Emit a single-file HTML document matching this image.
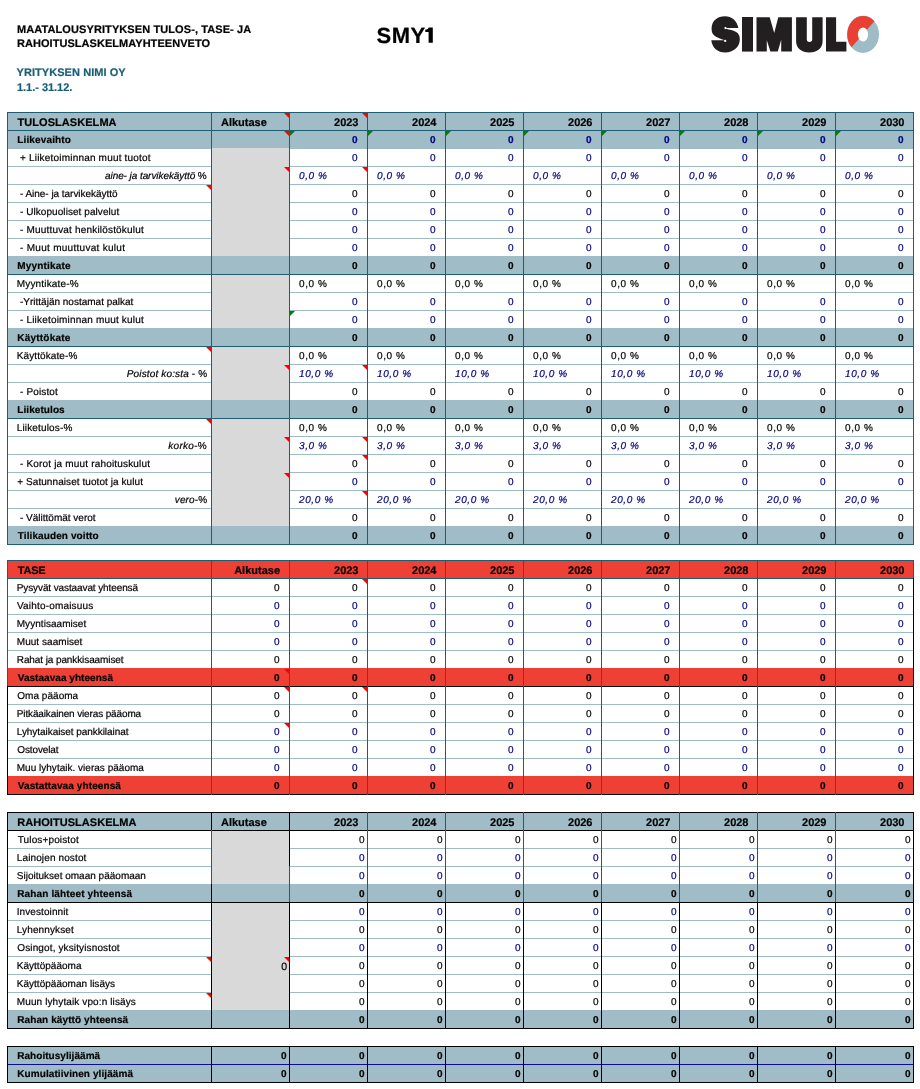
<!DOCTYPE html><html><head><meta charset="utf-8"><style>
*{margin:0;padding:0;box-sizing:border-box}
html,body{width:920px;height:1089px;background:#fff;overflow:hidden;position:relative;font-family:"Liberation Sans",sans-serif}
.r{position:absolute}
.t{position:absolute;white-space:nowrap}
#tx{position:absolute;left:0;top:0;width:920px;height:1089px;will-change:transform;-webkit-text-stroke:0.2px currentColor;text-rendering:geometricPrecision}
</style></head><body>
<svg class="r" style="left:420px;top:20px" width="20" height="30" viewBox="420 20 20 30"><path d="M428.6 27.4H432.8V42.8H428.6V31.9H425.3V29.5C427.2 29.5 428.4 28.8 428.6 27.4Z" fill="#000"/></svg>
<div class="r" style="left:7px;top:112px;width:906px;height:18px;background:#a0bdc7"></div>
<div class="r" style="left:7px;top:130px;width:906px;height:18px;background:#a0bdc7"></div>
<div class="r" style="left:211px;top:148px;width:78px;height:19px;background:#d9d9d9"></div>
<div class="r" style="left:211px;top:166px;width:78px;height:19px;background:#d9d9d9"></div>
<div class="r" style="left:211px;top:184px;width:78px;height:19px;background:#d9d9d9"></div>
<div class="r" style="left:211px;top:202px;width:78px;height:19px;background:#d9d9d9"></div>
<div class="r" style="left:211px;top:220px;width:78px;height:19px;background:#d9d9d9"></div>
<div class="r" style="left:211px;top:238px;width:78px;height:19px;background:#d9d9d9"></div>
<div class="r" style="left:7px;top:256px;width:906px;height:18px;background:#a0bdc7"></div>
<div class="r" style="left:211px;top:274px;width:78px;height:19px;background:#d9d9d9"></div>
<div class="r" style="left:211px;top:292px;width:78px;height:19px;background:#d9d9d9"></div>
<div class="r" style="left:211px;top:310px;width:78px;height:19px;background:#d9d9d9"></div>
<div class="r" style="left:7px;top:328px;width:906px;height:18px;background:#a0bdc7"></div>
<div class="r" style="left:211px;top:346px;width:78px;height:19px;background:#d9d9d9"></div>
<div class="r" style="left:211px;top:364px;width:78px;height:19px;background:#d9d9d9"></div>
<div class="r" style="left:211px;top:382px;width:78px;height:19px;background:#d9d9d9"></div>
<div class="r" style="left:7px;top:400px;width:906px;height:18px;background:#a0bdc7"></div>
<div class="r" style="left:211px;top:418px;width:78px;height:19px;background:#d9d9d9"></div>
<div class="r" style="left:211px;top:436px;width:78px;height:19px;background:#d9d9d9"></div>
<div class="r" style="left:211px;top:454px;width:78px;height:19px;background:#d9d9d9"></div>
<div class="r" style="left:211px;top:472px;width:78px;height:19px;background:#d9d9d9"></div>
<div class="r" style="left:211px;top:490px;width:78px;height:19px;background:#d9d9d9"></div>
<div class="r" style="left:211px;top:508px;width:78px;height:19px;background:#d9d9d9"></div>
<div class="r" style="left:7px;top:526px;width:906px;height:18px;background:#a0bdc7"></div>
<div class="r" style="left:7px;top:148px;width:204px;height:1px;background:#9fbcc6"></div>
<div class="r" style="left:289px;top:148px;width:624px;height:1px;background:#9fbcc6"></div>
<div class="r" style="left:7px;top:166px;width:204px;height:1px;background:#9fbcc6"></div>
<div class="r" style="left:289px;top:166px;width:624px;height:1px;background:#9fbcc6"></div>
<div class="r" style="left:7px;top:184px;width:204px;height:1px;background:#9fbcc6"></div>
<div class="r" style="left:289px;top:184px;width:624px;height:1px;background:#9fbcc6"></div>
<div class="r" style="left:7px;top:202px;width:204px;height:1px;background:#9fbcc6"></div>
<div class="r" style="left:289px;top:202px;width:624px;height:1px;background:#9fbcc6"></div>
<div class="r" style="left:7px;top:220px;width:204px;height:1px;background:#9fbcc6"></div>
<div class="r" style="left:289px;top:220px;width:624px;height:1px;background:#9fbcc6"></div>
<div class="r" style="left:7px;top:238px;width:204px;height:1px;background:#9fbcc6"></div>
<div class="r" style="left:289px;top:238px;width:624px;height:1px;background:#9fbcc6"></div>
<div class="r" style="left:7px;top:274px;width:906px;height:1px;background:#1d5e75"></div>
<div class="r" style="left:7px;top:292px;width:204px;height:1px;background:#9fbcc6"></div>
<div class="r" style="left:289px;top:292px;width:624px;height:1px;background:#9fbcc6"></div>
<div class="r" style="left:7px;top:310px;width:204px;height:1px;background:#9fbcc6"></div>
<div class="r" style="left:289px;top:310px;width:624px;height:1px;background:#9fbcc6"></div>
<div class="r" style="left:7px;top:346px;width:906px;height:1px;background:#1d5e75"></div>
<div class="r" style="left:7px;top:364px;width:204px;height:1px;background:#9fbcc6"></div>
<div class="r" style="left:289px;top:364px;width:624px;height:1px;background:#9fbcc6"></div>
<div class="r" style="left:7px;top:382px;width:204px;height:1px;background:#9fbcc6"></div>
<div class="r" style="left:289px;top:382px;width:624px;height:1px;background:#9fbcc6"></div>
<div class="r" style="left:7px;top:418px;width:906px;height:1px;background:#1d5e75"></div>
<div class="r" style="left:7px;top:436px;width:204px;height:1px;background:#9fbcc6"></div>
<div class="r" style="left:289px;top:436px;width:624px;height:1px;background:#9fbcc6"></div>
<div class="r" style="left:7px;top:454px;width:204px;height:1px;background:#9fbcc6"></div>
<div class="r" style="left:289px;top:454px;width:624px;height:1px;background:#9fbcc6"></div>
<div class="r" style="left:7px;top:472px;width:204px;height:1px;background:#9fbcc6"></div>
<div class="r" style="left:289px;top:472px;width:624px;height:1px;background:#9fbcc6"></div>
<div class="r" style="left:7px;top:490px;width:204px;height:1px;background:#9fbcc6"></div>
<div class="r" style="left:289px;top:490px;width:624px;height:1px;background:#9fbcc6"></div>
<div class="r" style="left:7px;top:508px;width:204px;height:1px;background:#9fbcc6"></div>
<div class="r" style="left:289px;top:508px;width:624px;height:1px;background:#9fbcc6"></div>
<div class="r" style="left:7px;top:544px;width:906px;height:1px;background:#1d5e75"></div>
<div class="r" style="left:7px;top:112px;width:906px;height:1px;background:#1d5e75"></div>
<div class="r" style="left:7px;top:130px;width:906px;height:1px;background:#1d5e75"></div>
<div class="r" style="left:7px;top:112px;width:1px;height:433px;background:#1d5e75"></div>
<div class="r" style="left:211px;top:112px;width:1px;height:433px;background:#1d5e75"></div>
<div class="r" style="left:289px;top:112px;width:1px;height:433px;background:#1d5e75"></div>
<div class="r" style="left:367px;top:112px;width:1px;height:433px;background:#1d5e75"></div>
<div class="r" style="left:445px;top:112px;width:1px;height:433px;background:#1d5e75"></div>
<div class="r" style="left:523px;top:112px;width:1px;height:433px;background:#1d5e75"></div>
<div class="r" style="left:601px;top:112px;width:1px;height:433px;background:#1d5e75"></div>
<div class="r" style="left:679px;top:112px;width:1px;height:433px;background:#1d5e75"></div>
<div class="r" style="left:757px;top:112px;width:1px;height:433px;background:#1d5e75"></div>
<div class="r" style="left:835px;top:112px;width:1px;height:433px;background:#1d5e75"></div>
<div class="r" style="left:913px;top:112px;width:1px;height:433px;background:#1d5e75"></div>
<div class="r" style="left:284px;top:113px;border-top:5px solid #ff0000;border-left:5px solid transparent"></div>
<div class="r" style="left:362px;top:113px;border-top:5px solid #ff0000;border-left:5px solid transparent"></div>
<div class="r" style="left:284px;top:131px;border-top:5px solid #ff0000;border-left:5px solid transparent"></div>
<div class="r" style="left:290px;top:131px;border-top:5px solid #008000;border-right:5px solid transparent"></div>
<div class="r" style="left:368px;top:131px;border-top:5px solid #008000;border-right:5px solid transparent"></div>
<div class="r" style="left:446px;top:131px;border-top:5px solid #008000;border-right:5px solid transparent"></div>
<div class="r" style="left:524px;top:131px;border-top:5px solid #008000;border-right:5px solid transparent"></div>
<div class="r" style="left:602px;top:131px;border-top:5px solid #008000;border-right:5px solid transparent"></div>
<div class="r" style="left:680px;top:131px;border-top:5px solid #008000;border-right:5px solid transparent"></div>
<div class="r" style="left:758px;top:131px;border-top:5px solid #008000;border-right:5px solid transparent"></div>
<div class="r" style="left:836px;top:131px;border-top:5px solid #008000;border-right:5px solid transparent"></div>
<div class="r" style="left:284px;top:167px;border-top:5px solid #ff0000;border-left:5px solid transparent"></div>
<div class="r" style="left:362px;top:167px;border-top:5px solid #ff0000;border-left:5px solid transparent"></div>
<div class="r" style="left:206px;top:185px;border-top:5px solid #ff0000;border-left:5px solid transparent"></div>
<div class="r" style="left:290px;top:311px;border-top:5px solid #008000;border-right:5px solid transparent"></div>
<div class="r" style="left:206px;top:347px;border-top:5px solid #ff0000;border-left:5px solid transparent"></div>
<div class="r" style="left:284px;top:365px;border-top:5px solid #ff0000;border-left:5px solid transparent"></div>
<div class="r" style="left:362px;top:365px;border-top:5px solid #ff0000;border-left:5px solid transparent"></div>
<div class="r" style="left:206px;top:419px;border-top:5px solid #ff0000;border-left:5px solid transparent"></div>
<div class="r" style="left:284px;top:437px;border-top:5px solid #ff0000;border-left:5px solid transparent"></div>
<div class="r" style="left:362px;top:437px;border-top:5px solid #ff0000;border-left:5px solid transparent"></div>
<div class="r" style="left:362px;top:455px;border-top:5px solid #ff0000;border-left:5px solid transparent"></div>
<div class="r" style="left:284px;top:473px;border-top:5px solid #ff0000;border-left:5px solid transparent"></div>
<div class="r" style="left:362px;top:491px;border-top:5px solid #ff0000;border-left:5px solid transparent"></div>
<div class="r" style="left:7px;top:560px;width:906px;height:18px;background:#ee4035"></div>
<div class="r" style="left:7px;top:668px;width:906px;height:18px;background:#ee4035"></div>
<div class="r" style="left:7px;top:776px;width:906px;height:18px;background:#ee4035"></div>
<div class="r" style="left:7px;top:596px;width:906px;height:1px;background:#9fbcc6"></div>
<div class="r" style="left:7px;top:614px;width:906px;height:1px;background:#9fbcc6"></div>
<div class="r" style="left:7px;top:632px;width:906px;height:1px;background:#9fbcc6"></div>
<div class="r" style="left:7px;top:650px;width:906px;height:1px;background:#9fbcc6"></div>
<div class="r" style="left:7px;top:686px;width:906px;height:1px;background:#000000"></div>
<div class="r" style="left:7px;top:704px;width:906px;height:1px;background:#9fbcc6"></div>
<div class="r" style="left:7px;top:722px;width:906px;height:1px;background:#9fbcc6"></div>
<div class="r" style="left:7px;top:740px;width:906px;height:1px;background:#9fbcc6"></div>
<div class="r" style="left:7px;top:758px;width:906px;height:1px;background:#9fbcc6"></div>
<div class="r" style="left:7px;top:794px;width:906px;height:1px;background:#000000"></div>
<div class="r" style="left:7px;top:560px;width:906px;height:1px;background:#1d5e75"></div>
<div class="r" style="left:7px;top:578px;width:906px;height:1px;background:#1d5e75"></div>
<div class="r" style="left:211px;top:560px;width:1px;height:235px;background:#1d5e75"></div>
<div class="r" style="left:289px;top:560px;width:1px;height:235px;background:#1d5e75"></div>
<div class="r" style="left:367px;top:560px;width:1px;height:235px;background:#1d5e75"></div>
<div class="r" style="left:445px;top:560px;width:1px;height:235px;background:#1d5e75"></div>
<div class="r" style="left:523px;top:560px;width:1px;height:235px;background:#1d5e75"></div>
<div class="r" style="left:601px;top:560px;width:1px;height:235px;background:#1d5e75"></div>
<div class="r" style="left:679px;top:560px;width:1px;height:235px;background:#1d5e75"></div>
<div class="r" style="left:757px;top:560px;width:1px;height:235px;background:#1d5e75"></div>
<div class="r" style="left:835px;top:560px;width:1px;height:235px;background:#1d5e75"></div>
<div class="r" style="left:7px;top:560px;width:1px;height:126px;background:#1d5e75"></div>
<div class="r" style="left:7px;top:686px;width:1px;height:109px;background:#000000"></div>
<div class="r" style="left:913px;top:560px;width:1px;height:18px;background:#1d5e75"></div>
<div class="r" style="left:913px;top:578px;width:1px;height:217px;background:#000000"></div>
<div class="r" style="left:362px;top:579px;border-top:5px solid #ff0000;border-left:5px solid transparent"></div>
<div class="r" style="left:284px;top:669px;border-top:5px solid #ff0000;border-left:5px solid transparent"></div>
<div class="r" style="left:284px;top:687px;border-top:5px solid #ff0000;border-left:5px solid transparent"></div>
<div class="r" style="left:362px;top:687px;border-top:5px solid #ff0000;border-left:5px solid transparent"></div>
<div class="r" style="left:284px;top:723px;border-top:5px solid #ff0000;border-left:5px solid transparent"></div>
<div class="r" style="left:7px;top:812px;width:906px;height:18px;background:#a0bdc7"></div>
<div class="r" style="left:211px;top:830px;width:78px;height:19px;background:#d9d9d9"></div>
<div class="r" style="left:211px;top:848px;width:78px;height:19px;background:#d9d9d9"></div>
<div class="r" style="left:211px;top:866px;width:78px;height:19px;background:#d9d9d9"></div>
<div class="r" style="left:7px;top:884px;width:906px;height:18px;background:#a0bdc7"></div>
<div class="r" style="left:211px;top:902px;width:78px;height:19px;background:#d9d9d9"></div>
<div class="r" style="left:211px;top:920px;width:78px;height:19px;background:#d9d9d9"></div>
<div class="r" style="left:211px;top:938px;width:78px;height:19px;background:#d9d9d9"></div>
<div class="r" style="left:211px;top:956px;width:78px;height:19px;background:#d9d9d9"></div>
<div class="r" style="left:211px;top:974px;width:78px;height:19px;background:#d9d9d9"></div>
<div class="r" style="left:211px;top:992px;width:78px;height:19px;background:#d9d9d9"></div>
<div class="r" style="left:7px;top:1010px;width:906px;height:18px;background:#a0bdc7"></div>
<div class="r" style="left:7px;top:848px;width:204px;height:1px;background:#9fbcc6"></div>
<div class="r" style="left:289px;top:848px;width:624px;height:1px;background:#9fbcc6"></div>
<div class="r" style="left:7px;top:866px;width:204px;height:1px;background:#9fbcc6"></div>
<div class="r" style="left:289px;top:866px;width:624px;height:1px;background:#9fbcc6"></div>
<div class="r" style="left:7px;top:902px;width:906px;height:1px;background:#000000"></div>
<div class="r" style="left:7px;top:920px;width:204px;height:1px;background:#9fbcc6"></div>
<div class="r" style="left:289px;top:920px;width:624px;height:1px;background:#9fbcc6"></div>
<div class="r" style="left:7px;top:938px;width:204px;height:1px;background:#9fbcc6"></div>
<div class="r" style="left:289px;top:938px;width:624px;height:1px;background:#9fbcc6"></div>
<div class="r" style="left:7px;top:956px;width:204px;height:1px;background:#9fbcc6"></div>
<div class="r" style="left:289px;top:956px;width:624px;height:1px;background:#9fbcc6"></div>
<div class="r" style="left:7px;top:974px;width:204px;height:1px;background:#9fbcc6"></div>
<div class="r" style="left:289px;top:974px;width:624px;height:1px;background:#9fbcc6"></div>
<div class="r" style="left:7px;top:992px;width:204px;height:1px;background:#9fbcc6"></div>
<div class="r" style="left:289px;top:992px;width:624px;height:1px;background:#9fbcc6"></div>
<div class="r" style="left:7px;top:1028px;width:906px;height:1px;background:#000000"></div>
<div class="r" style="left:7px;top:812px;width:906px;height:1px;background:#000000"></div>
<div class="r" style="left:7px;top:830px;width:906px;height:1px;background:#000000"></div>
<div class="r" style="left:7px;top:812px;width:1px;height:217px;background:#000000"></div>
<div class="r" style="left:913px;top:812px;width:1px;height:217px;background:#000000"></div>
<div class="r" style="left:211px;top:812px;width:1px;height:18px;background:#000000"></div>
<div class="r" style="left:289px;top:812px;width:1px;height:18px;background:#000000"></div>
<div class="r" style="left:367px;top:812px;width:1px;height:18px;background:#1d5e75"></div>
<div class="r" style="left:445px;top:812px;width:1px;height:18px;background:#1d5e75"></div>
<div class="r" style="left:523px;top:812px;width:1px;height:18px;background:#1d5e75"></div>
<div class="r" style="left:601px;top:812px;width:1px;height:18px;background:#1d5e75"></div>
<div class="r" style="left:679px;top:812px;width:1px;height:18px;background:#1d5e75"></div>
<div class="r" style="left:757px;top:812px;width:1px;height:18px;background:#1d5e75"></div>
<div class="r" style="left:835px;top:812px;width:1px;height:18px;background:#1d5e75"></div>
<div class="r" style="left:211px;top:830px;width:1px;height:54px;background:#1d5e75"></div>
<div class="r" style="left:211px;top:884px;width:1px;height:19px;background:#000000"></div>
<div class="r" style="left:289px;top:830px;width:1px;height:36px;background:#000000"></div>
<div class="r" style="left:289px;top:866px;width:1px;height:36px;background:#1d5e75"></div>
<div class="r" style="left:367px;top:830px;width:1px;height:72px;background:#1d5e75"></div>
<div class="r" style="left:445px;top:830px;width:1px;height:72px;background:#1d5e75"></div>
<div class="r" style="left:523px;top:830px;width:1px;height:72px;background:#1d5e75"></div>
<div class="r" style="left:601px;top:830px;width:1px;height:72px;background:#1d5e75"></div>
<div class="r" style="left:679px;top:830px;width:1px;height:72px;background:#1d5e75"></div>
<div class="r" style="left:757px;top:830px;width:1px;height:72px;background:#1d5e75"></div>
<div class="r" style="left:835px;top:830px;width:1px;height:72px;background:#1d5e75"></div>
<div class="r" style="left:211px;top:902px;width:1px;height:127px;background:#000000"></div>
<div class="r" style="left:289px;top:902px;width:1px;height:127px;background:#000000"></div>
<div class="r" style="left:367px;top:902px;width:1px;height:127px;background:#000000"></div>
<div class="r" style="left:445px;top:902px;width:1px;height:127px;background:#000000"></div>
<div class="r" style="left:523px;top:902px;width:1px;height:127px;background:#000000"></div>
<div class="r" style="left:601px;top:902px;width:1px;height:127px;background:#000000"></div>
<div class="r" style="left:679px;top:902px;width:1px;height:127px;background:#000000"></div>
<div class="r" style="left:757px;top:902px;width:1px;height:127px;background:#000000"></div>
<div class="r" style="left:835px;top:902px;width:1px;height:127px;background:#000000"></div>
<div class="r" style="left:206px;top:957px;border-top:5px solid #ff0000;border-left:5px solid transparent"></div>
<div class="r" style="left:284px;top:957px;border-top:5px solid #ff0000;border-left:5px solid transparent"></div>
<div class="r" style="left:206px;top:993px;border-top:5px solid #ff0000;border-left:5px solid transparent"></div>
<div class="r" style="left:7px;top:1046px;width:906px;height:36px;background:#a0bdc7"></div>
<div class="r" style="left:7px;top:1046px;width:906px;height:1px;background:#000000"></div>
<div class="r" style="left:7px;top:1064px;width:906px;height:1px;background:#100c9a"></div>
<div class="r" style="left:7px;top:1082px;width:906px;height:1px;background:#000000"></div>
<div class="r" style="left:7px;top:1046px;width:1px;height:37px;background:#000000"></div>
<div class="r" style="left:211px;top:1046px;width:1px;height:37px;background:#000000"></div>
<div class="r" style="left:289px;top:1046px;width:1px;height:37px;background:#000000"></div>
<div class="r" style="left:367px;top:1046px;width:1px;height:37px;background:#000000"></div>
<div class="r" style="left:445px;top:1046px;width:1px;height:37px;background:#000000"></div>
<div class="r" style="left:523px;top:1046px;width:1px;height:37px;background:#000000"></div>
<div class="r" style="left:601px;top:1046px;width:1px;height:37px;background:#000000"></div>
<div class="r" style="left:679px;top:1046px;width:1px;height:37px;background:#000000"></div>
<div class="r" style="left:757px;top:1046px;width:1px;height:37px;background:#000000"></div>
<div class="r" style="left:835px;top:1046px;width:1px;height:37px;background:#000000"></div>
<div class="r" style="left:913px;top:1046px;width:1px;height:37px;background:#000000"></div>
<svg class="r" style="left:700px;top:0px" width="200" height="70" viewBox="700 0 200 70">
<g fill="#231f20">
<path d="M725 16.2C731.5 16.2 737 20.5 738.4 28H726.8L725.6 28.8C729 29.6 735 30.6 737.8 33.2C739.4 35 739.8 37 739.8 39.6C739.8 47.2 733.2 52.5 725.4 52.5C717.4 52.5 712.2 47.6 711.3 40.2H723.9L724.6 40.3C721.5 38.9 714.6 37.2 712.6 33.4C711.9 32 711.6 30.2 711.6 28.4C711.6 20.5 717.6 16.2 725 16.2Z"/>
<rect x="742" y="17" width="11" height="34.6"/>
<path d="M756.5 17.2H769.7L774.2 33.1L778.3 17.2H791.9V51.6H781.2V39.8L777.8 51.6H770.4L766.8 40.3V51.6H756.5Z"/>
<path d="M796.1 17.3H806.8V39.3A2.7 2.7 0 0 0 812.2 39.3V17.3H822.6V41C822.6 48.5 817 52.5 809.4 52.5C801.8 52.5 796.1 48.5 796.1 41Z"/>
<path d="M826 17.3H836.1V41.7H846.4V51.6H826Z"/>
</g>
<g fill="#fff"><circle cx="725.5" cy="28.1" r="1.15"/><circle cx="725.2" cy="40.9" r="1.15"/></g>
<ellipse cx="863" cy="34.3" rx="16" ry="18.6" fill="#9dbcc6"/>
<path d="M851.57 47.31A16 18.6 0 0 1 874.43 21.29Z" fill="#ea4034"/>
<ellipse cx="863" cy="34.5" rx="5.1" ry="7.1" fill="#fff"/>
</svg>
<div id="tx">
<div class="t" style="top:25.19px;font-size:11px;line-height:11px;font-weight:bold;letter-spacing:0.092px;left:17.0px;">MAATALOUSYRITYKSEN TULOS-, TASE- JA</div>
<div class="t" style="top:39.19px;font-size:11px;line-height:11px;font-weight:bold;letter-spacing:0.044px;left:17.0px;">RAHOITUSLASKELMAYHTEENVETO</div>
<div class="t" style="top:24.88px;font-size:22px;line-height:22px;font-weight:bold;letter-spacing:0.499px;left:376.5px;">SMY</div>
<div class="t" style="top:68.19px;font-size:11px;line-height:11px;color:#1a5e79;font-weight:bold;letter-spacing:0.062px;left:16.5px;">YRITYKSEN NIMI OY</div>
<div class="t" style="top:83.19px;font-size:11px;line-height:11px;color:#1a5e79;font-weight:bold;letter-spacing:-0.028px;left:17.0px;">1.1.- 31.12.</div>
<div class="t" style="top:117.69px;font-size:11px;line-height:11px;font-weight:bold;letter-spacing:0.055px;left:17.5px;">TULOSLASKELMA</div>
<div class="t" style="top:117.69px;font-size:11px;line-height:11px;font-weight:bold;left:221px;">Alkutase</div>
<div class="t" style="top:117.69px;font-size:11px;line-height:11px;font-weight:bold;right:561.5px;">2023</div>
<div class="t" style="top:117.69px;font-size:11px;line-height:11px;font-weight:bold;right:483.5px;">2024</div>
<div class="t" style="top:117.69px;font-size:11px;line-height:11px;font-weight:bold;right:405.5px;">2025</div>
<div class="t" style="top:117.69px;font-size:11px;line-height:11px;font-weight:bold;right:327.5px;">2026</div>
<div class="t" style="top:117.69px;font-size:11px;line-height:11px;font-weight:bold;right:249.5px;">2027</div>
<div class="t" style="top:117.69px;font-size:11px;line-height:11px;font-weight:bold;right:171.5px;">2028</div>
<div class="t" style="top:117.69px;font-size:11px;line-height:11px;font-weight:bold;right:93.5px;">2029</div>
<div class="t" style="top:117.69px;font-size:11px;line-height:11px;font-weight:bold;right:15.5px;">2030</div>
<div class="t" style="top:136.03px;font-size:10px;line-height:10px;font-weight:bold;letter-spacing:0.140px;left:17.25px;">Liikevaihto</div>
<div class="t" style="top:136.03px;font-size:10px;line-height:10px;color:#000080;font-weight:bold;right:562.5px;">0</div>
<div class="t" style="top:136.03px;font-size:10px;line-height:10px;color:#000080;font-weight:bold;right:484.5px;">0</div>
<div class="t" style="top:136.03px;font-size:10px;line-height:10px;color:#000080;font-weight:bold;right:406.5px;">0</div>
<div class="t" style="top:136.03px;font-size:10px;line-height:10px;color:#000080;font-weight:bold;right:328.5px;">0</div>
<div class="t" style="top:136.03px;font-size:10px;line-height:10px;color:#000080;font-weight:bold;right:250.5px;">0</div>
<div class="t" style="top:136.03px;font-size:10px;line-height:10px;color:#000080;font-weight:bold;right:172.5px;">0</div>
<div class="t" style="top:136.03px;font-size:10px;line-height:10px;color:#000080;font-weight:bold;right:94.5px;">0</div>
<div class="t" style="top:136.03px;font-size:10px;line-height:10px;color:#000080;font-weight:bold;right:16.5px;">0</div>
<div class="t" style="top:154.03px;font-size:10px;line-height:10px;letter-spacing:0.194px;left:20.0px;">+ Liiketoiminnan muut tuotot</div>
<div class="t" style="top:154.03px;font-size:10px;line-height:10px;color:#000080;right:562.5px;">0</div>
<div class="t" style="top:154.03px;font-size:10px;line-height:10px;color:#000080;right:484.5px;">0</div>
<div class="t" style="top:154.03px;font-size:10px;line-height:10px;color:#000080;right:406.5px;">0</div>
<div class="t" style="top:154.03px;font-size:10px;line-height:10px;color:#000080;right:328.5px;">0</div>
<div class="t" style="top:154.03px;font-size:10px;line-height:10px;color:#000080;right:250.5px;">0</div>
<div class="t" style="top:154.03px;font-size:10px;line-height:10px;color:#000080;right:172.5px;">0</div>
<div class="t" style="top:154.03px;font-size:10px;line-height:10px;color:#000080;right:94.5px;">0</div>
<div class="t" style="top:154.03px;font-size:10px;line-height:10px;color:#000080;right:16.5px;">0</div>
<div class="t" style="top:172.03px;font-size:10px;line-height:10px;letter-spacing:-0.072px;left:105.0px;"><i>aine- ja tarvikekäyttö</i> %</div>
<div class="t" style="top:172.03px;font-size:10px;line-height:10px;color:#000080;font-style:italic;letter-spacing:0.600px;left:299px;">0,0 %</div>
<div class="t" style="top:172.03px;font-size:10px;line-height:10px;color:#000080;font-style:italic;letter-spacing:0.600px;left:377px;">0,0 %</div>
<div class="t" style="top:172.03px;font-size:10px;line-height:10px;color:#000080;font-style:italic;letter-spacing:0.600px;left:455px;">0,0 %</div>
<div class="t" style="top:172.03px;font-size:10px;line-height:10px;color:#000080;font-style:italic;letter-spacing:0.600px;left:533px;">0,0 %</div>
<div class="t" style="top:172.03px;font-size:10px;line-height:10px;color:#000080;font-style:italic;letter-spacing:0.600px;left:611px;">0,0 %</div>
<div class="t" style="top:172.03px;font-size:10px;line-height:10px;color:#000080;font-style:italic;letter-spacing:0.600px;left:689px;">0,0 %</div>
<div class="t" style="top:172.03px;font-size:10px;line-height:10px;color:#000080;font-style:italic;letter-spacing:0.600px;left:767px;">0,0 %</div>
<div class="t" style="top:172.03px;font-size:10px;line-height:10px;color:#000080;font-style:italic;letter-spacing:0.600px;left:845px;">0,0 %</div>
<div class="t" style="top:190.03px;font-size:10px;line-height:10px;letter-spacing:-0.037px;left:20.0px;">- Aine- ja tarvikekäyttö</div>
<div class="t" style="top:190.03px;font-size:10px;line-height:10px;right:562.5px;">0</div>
<div class="t" style="top:190.03px;font-size:10px;line-height:10px;right:484.5px;">0</div>
<div class="t" style="top:190.03px;font-size:10px;line-height:10px;right:406.5px;">0</div>
<div class="t" style="top:190.03px;font-size:10px;line-height:10px;right:328.5px;">0</div>
<div class="t" style="top:190.03px;font-size:10px;line-height:10px;right:250.5px;">0</div>
<div class="t" style="top:190.03px;font-size:10px;line-height:10px;right:172.5px;">0</div>
<div class="t" style="top:190.03px;font-size:10px;line-height:10px;right:94.5px;">0</div>
<div class="t" style="top:190.03px;font-size:10px;line-height:10px;right:16.5px;">0</div>
<div class="t" style="top:208.03px;font-size:10px;line-height:10px;letter-spacing:0.063px;left:20.0px;">- Ulkopuoliset palvelut</div>
<div class="t" style="top:208.03px;font-size:10px;line-height:10px;color:#000080;right:562.5px;">0</div>
<div class="t" style="top:208.03px;font-size:10px;line-height:10px;color:#000080;right:484.5px;">0</div>
<div class="t" style="top:208.03px;font-size:10px;line-height:10px;color:#000080;right:406.5px;">0</div>
<div class="t" style="top:208.03px;font-size:10px;line-height:10px;color:#000080;right:328.5px;">0</div>
<div class="t" style="top:208.03px;font-size:10px;line-height:10px;color:#000080;right:250.5px;">0</div>
<div class="t" style="top:208.03px;font-size:10px;line-height:10px;color:#000080;right:172.5px;">0</div>
<div class="t" style="top:208.03px;font-size:10px;line-height:10px;color:#000080;right:94.5px;">0</div>
<div class="t" style="top:208.03px;font-size:10px;line-height:10px;color:#000080;right:16.5px;">0</div>
<div class="t" style="top:226.03px;font-size:10px;line-height:10px;letter-spacing:0.183px;left:20.0px;">- Muuttuvat henkilöstökulut</div>
<div class="t" style="top:226.03px;font-size:10px;line-height:10px;color:#000080;right:562.5px;">0</div>
<div class="t" style="top:226.03px;font-size:10px;line-height:10px;color:#000080;right:484.5px;">0</div>
<div class="t" style="top:226.03px;font-size:10px;line-height:10px;color:#000080;right:406.5px;">0</div>
<div class="t" style="top:226.03px;font-size:10px;line-height:10px;color:#000080;right:328.5px;">0</div>
<div class="t" style="top:226.03px;font-size:10px;line-height:10px;color:#000080;right:250.5px;">0</div>
<div class="t" style="top:226.03px;font-size:10px;line-height:10px;color:#000080;right:172.5px;">0</div>
<div class="t" style="top:226.03px;font-size:10px;line-height:10px;color:#000080;right:94.5px;">0</div>
<div class="t" style="top:226.03px;font-size:10px;line-height:10px;color:#000080;right:16.5px;">0</div>
<div class="t" style="top:244.03px;font-size:10px;line-height:10px;letter-spacing:0.289px;left:20.0px;">- Muut muuttuvat kulut</div>
<div class="t" style="top:244.03px;font-size:10px;line-height:10px;color:#000080;right:562.5px;">0</div>
<div class="t" style="top:244.03px;font-size:10px;line-height:10px;color:#000080;right:484.5px;">0</div>
<div class="t" style="top:244.03px;font-size:10px;line-height:10px;color:#000080;right:406.5px;">0</div>
<div class="t" style="top:244.03px;font-size:10px;line-height:10px;color:#000080;right:328.5px;">0</div>
<div class="t" style="top:244.03px;font-size:10px;line-height:10px;color:#000080;right:250.5px;">0</div>
<div class="t" style="top:244.03px;font-size:10px;line-height:10px;color:#000080;right:172.5px;">0</div>
<div class="t" style="top:244.03px;font-size:10px;line-height:10px;color:#000080;right:94.5px;">0</div>
<div class="t" style="top:244.03px;font-size:10px;line-height:10px;color:#000080;right:16.5px;">0</div>
<div class="t" style="top:262.04px;font-size:10px;line-height:10px;font-weight:bold;letter-spacing:0.167px;left:17.25px;">Myyntikate</div>
<div class="t" style="top:262.04px;font-size:10px;line-height:10px;font-weight:bold;right:562.5px;">0</div>
<div class="t" style="top:262.04px;font-size:10px;line-height:10px;font-weight:bold;right:484.5px;">0</div>
<div class="t" style="top:262.04px;font-size:10px;line-height:10px;font-weight:bold;right:406.5px;">0</div>
<div class="t" style="top:262.04px;font-size:10px;line-height:10px;font-weight:bold;right:328.5px;">0</div>
<div class="t" style="top:262.04px;font-size:10px;line-height:10px;font-weight:bold;right:250.5px;">0</div>
<div class="t" style="top:262.04px;font-size:10px;line-height:10px;font-weight:bold;right:172.5px;">0</div>
<div class="t" style="top:262.04px;font-size:10px;line-height:10px;font-weight:bold;right:94.5px;">0</div>
<div class="t" style="top:262.04px;font-size:10px;line-height:10px;font-weight:bold;right:16.5px;">0</div>
<div class="t" style="top:280.04px;font-size:10px;line-height:10px;letter-spacing:0.169px;left:16.75px;">Myyntikate-%</div>
<div class="t" style="top:280.04px;font-size:10px;line-height:10px;letter-spacing:0.600px;left:299px;">0,0 %</div>
<div class="t" style="top:280.04px;font-size:10px;line-height:10px;letter-spacing:0.600px;left:377px;">0,0 %</div>
<div class="t" style="top:280.04px;font-size:10px;line-height:10px;letter-spacing:0.600px;left:455px;">0,0 %</div>
<div class="t" style="top:280.04px;font-size:10px;line-height:10px;letter-spacing:0.600px;left:533px;">0,0 %</div>
<div class="t" style="top:280.04px;font-size:10px;line-height:10px;letter-spacing:0.600px;left:611px;">0,0 %</div>
<div class="t" style="top:280.04px;font-size:10px;line-height:10px;letter-spacing:0.600px;left:689px;">0,0 %</div>
<div class="t" style="top:280.04px;font-size:10px;line-height:10px;letter-spacing:0.600px;left:767px;">0,0 %</div>
<div class="t" style="top:280.04px;font-size:10px;line-height:10px;letter-spacing:0.600px;left:845px;">0,0 %</div>
<div class="t" style="top:298.04px;font-size:10px;line-height:10px;left:20.0px;">-Yrittäjän nostamat palkat</div>
<div class="t" style="top:298.04px;font-size:10px;line-height:10px;color:#000080;right:562.5px;">0</div>
<div class="t" style="top:298.04px;font-size:10px;line-height:10px;color:#000080;right:484.5px;">0</div>
<div class="t" style="top:298.04px;font-size:10px;line-height:10px;color:#000080;right:406.5px;">0</div>
<div class="t" style="top:298.04px;font-size:10px;line-height:10px;color:#000080;right:328.5px;">0</div>
<div class="t" style="top:298.04px;font-size:10px;line-height:10px;color:#000080;right:250.5px;">0</div>
<div class="t" style="top:298.04px;font-size:10px;line-height:10px;color:#000080;right:172.5px;">0</div>
<div class="t" style="top:298.04px;font-size:10px;line-height:10px;color:#000080;right:94.5px;">0</div>
<div class="t" style="top:298.04px;font-size:10px;line-height:10px;color:#000080;right:16.5px;">0</div>
<div class="t" style="top:316.04px;font-size:10px;line-height:10px;letter-spacing:0.183px;left:20.0px;">- Liiketoiminnan muut kulut</div>
<div class="t" style="top:316.04px;font-size:10px;line-height:10px;color:#000080;right:562.5px;">0</div>
<div class="t" style="top:316.04px;font-size:10px;line-height:10px;color:#000080;right:484.5px;">0</div>
<div class="t" style="top:316.04px;font-size:10px;line-height:10px;color:#000080;right:406.5px;">0</div>
<div class="t" style="top:316.04px;font-size:10px;line-height:10px;color:#000080;right:328.5px;">0</div>
<div class="t" style="top:316.04px;font-size:10px;line-height:10px;color:#000080;right:250.5px;">0</div>
<div class="t" style="top:316.04px;font-size:10px;line-height:10px;color:#000080;right:172.5px;">0</div>
<div class="t" style="top:316.04px;font-size:10px;line-height:10px;color:#000080;right:94.5px;">0</div>
<div class="t" style="top:316.04px;font-size:10px;line-height:10px;color:#000080;right:16.5px;">0</div>
<div class="t" style="top:334.04px;font-size:10px;line-height:10px;font-weight:bold;letter-spacing:0.222px;left:17.25px;">Käyttökate</div>
<div class="t" style="top:334.04px;font-size:10px;line-height:10px;font-weight:bold;right:562.5px;">0</div>
<div class="t" style="top:334.04px;font-size:10px;line-height:10px;font-weight:bold;right:484.5px;">0</div>
<div class="t" style="top:334.04px;font-size:10px;line-height:10px;font-weight:bold;right:406.5px;">0</div>
<div class="t" style="top:334.04px;font-size:10px;line-height:10px;font-weight:bold;right:328.5px;">0</div>
<div class="t" style="top:334.04px;font-size:10px;line-height:10px;font-weight:bold;right:250.5px;">0</div>
<div class="t" style="top:334.04px;font-size:10px;line-height:10px;font-weight:bold;right:172.5px;">0</div>
<div class="t" style="top:334.04px;font-size:10px;line-height:10px;font-weight:bold;right:94.5px;">0</div>
<div class="t" style="top:334.04px;font-size:10px;line-height:10px;font-weight:bold;right:16.5px;">0</div>
<div class="t" style="top:352.04px;font-size:10px;line-height:10px;letter-spacing:0.096px;left:16.75px;">Käyttökate-%</div>
<div class="t" style="top:352.04px;font-size:10px;line-height:10px;letter-spacing:0.600px;left:299px;">0,0 %</div>
<div class="t" style="top:352.04px;font-size:10px;line-height:10px;letter-spacing:0.600px;left:377px;">0,0 %</div>
<div class="t" style="top:352.04px;font-size:10px;line-height:10px;letter-spacing:0.600px;left:455px;">0,0 %</div>
<div class="t" style="top:352.04px;font-size:10px;line-height:10px;letter-spacing:0.600px;left:533px;">0,0 %</div>
<div class="t" style="top:352.04px;font-size:10px;line-height:10px;letter-spacing:0.600px;left:611px;">0,0 %</div>
<div class="t" style="top:352.04px;font-size:10px;line-height:10px;letter-spacing:0.600px;left:689px;">0,0 %</div>
<div class="t" style="top:352.04px;font-size:10px;line-height:10px;letter-spacing:0.600px;left:767px;">0,0 %</div>
<div class="t" style="top:352.04px;font-size:10px;line-height:10px;letter-spacing:0.600px;left:845px;">0,0 %</div>
<div class="t" style="top:370.04px;font-size:10px;line-height:10px;letter-spacing:0.147px;left:126.75px;"><i>Poistot ko:sta</i> - %</div>
<div class="t" style="top:370.04px;font-size:10px;line-height:10px;color:#000080;font-style:italic;letter-spacing:0.600px;left:299px;">10,0 %</div>
<div class="t" style="top:370.04px;font-size:10px;line-height:10px;color:#000080;font-style:italic;letter-spacing:0.600px;left:377px;">10,0 %</div>
<div class="t" style="top:370.04px;font-size:10px;line-height:10px;color:#000080;font-style:italic;letter-spacing:0.600px;left:455px;">10,0 %</div>
<div class="t" style="top:370.04px;font-size:10px;line-height:10px;color:#000080;font-style:italic;letter-spacing:0.600px;left:533px;">10,0 %</div>
<div class="t" style="top:370.04px;font-size:10px;line-height:10px;color:#000080;font-style:italic;letter-spacing:0.600px;left:611px;">10,0 %</div>
<div class="t" style="top:370.04px;font-size:10px;line-height:10px;color:#000080;font-style:italic;letter-spacing:0.600px;left:689px;">10,0 %</div>
<div class="t" style="top:370.04px;font-size:10px;line-height:10px;color:#000080;font-style:italic;letter-spacing:0.600px;left:767px;">10,0 %</div>
<div class="t" style="top:370.04px;font-size:10px;line-height:10px;color:#000080;font-style:italic;letter-spacing:0.600px;left:845px;">10,0 %</div>
<div class="t" style="top:388.04px;font-size:10px;line-height:10px;letter-spacing:0.138px;left:20.0px;">- Poistot</div>
<div class="t" style="top:388.04px;font-size:10px;line-height:10px;right:562.5px;">0</div>
<div class="t" style="top:388.04px;font-size:10px;line-height:10px;right:484.5px;">0</div>
<div class="t" style="top:388.04px;font-size:10px;line-height:10px;right:406.5px;">0</div>
<div class="t" style="top:388.04px;font-size:10px;line-height:10px;right:328.5px;">0</div>
<div class="t" style="top:388.04px;font-size:10px;line-height:10px;right:250.5px;">0</div>
<div class="t" style="top:388.04px;font-size:10px;line-height:10px;right:172.5px;">0</div>
<div class="t" style="top:388.04px;font-size:10px;line-height:10px;right:94.5px;">0</div>
<div class="t" style="top:388.04px;font-size:10px;line-height:10px;right:16.5px;">0</div>
<div class="t" style="top:406.04px;font-size:10px;line-height:10px;font-weight:bold;letter-spacing:0.083px;left:17.25px;">Liiketulos</div>
<div class="t" style="top:406.04px;font-size:10px;line-height:10px;font-weight:bold;right:562.5px;">0</div>
<div class="t" style="top:406.04px;font-size:10px;line-height:10px;font-weight:bold;right:484.5px;">0</div>
<div class="t" style="top:406.04px;font-size:10px;line-height:10px;font-weight:bold;right:406.5px;">0</div>
<div class="t" style="top:406.04px;font-size:10px;line-height:10px;font-weight:bold;right:328.5px;">0</div>
<div class="t" style="top:406.04px;font-size:10px;line-height:10px;font-weight:bold;right:250.5px;">0</div>
<div class="t" style="top:406.04px;font-size:10px;line-height:10px;font-weight:bold;right:172.5px;">0</div>
<div class="t" style="top:406.04px;font-size:10px;line-height:10px;font-weight:bold;right:94.5px;">0</div>
<div class="t" style="top:406.04px;font-size:10px;line-height:10px;font-weight:bold;right:16.5px;">0</div>
<div class="t" style="top:424.04px;font-size:10px;line-height:10px;letter-spacing:0.155px;left:16.75px;">Liiketulos-%</div>
<div class="t" style="top:424.04px;font-size:10px;line-height:10px;letter-spacing:0.600px;left:299px;">0,0 %</div>
<div class="t" style="top:424.04px;font-size:10px;line-height:10px;letter-spacing:0.600px;left:377px;">0,0 %</div>
<div class="t" style="top:424.04px;font-size:10px;line-height:10px;letter-spacing:0.600px;left:455px;">0,0 %</div>
<div class="t" style="top:424.04px;font-size:10px;line-height:10px;letter-spacing:0.600px;left:533px;">0,0 %</div>
<div class="t" style="top:424.04px;font-size:10px;line-height:10px;letter-spacing:0.600px;left:611px;">0,0 %</div>
<div class="t" style="top:424.04px;font-size:10px;line-height:10px;letter-spacing:0.600px;left:689px;">0,0 %</div>
<div class="t" style="top:424.04px;font-size:10px;line-height:10px;letter-spacing:0.600px;left:767px;">0,0 %</div>
<div class="t" style="top:424.04px;font-size:10px;line-height:10px;letter-spacing:0.600px;left:845px;">0,0 %</div>
<div class="t" style="top:442.04px;font-size:10px;line-height:10px;letter-spacing:0.301px;left:168.25px;"><i>korko</i>-%</div>
<div class="t" style="top:442.04px;font-size:10px;line-height:10px;color:#000080;font-style:italic;letter-spacing:0.600px;left:299px;">3,0 %</div>
<div class="t" style="top:442.04px;font-size:10px;line-height:10px;color:#000080;font-style:italic;letter-spacing:0.600px;left:377px;">3,0 %</div>
<div class="t" style="top:442.04px;font-size:10px;line-height:10px;color:#000080;font-style:italic;letter-spacing:0.600px;left:455px;">3,0 %</div>
<div class="t" style="top:442.04px;font-size:10px;line-height:10px;color:#000080;font-style:italic;letter-spacing:0.600px;left:533px;">3,0 %</div>
<div class="t" style="top:442.04px;font-size:10px;line-height:10px;color:#000080;font-style:italic;letter-spacing:0.600px;left:611px;">3,0 %</div>
<div class="t" style="top:442.04px;font-size:10px;line-height:10px;color:#000080;font-style:italic;letter-spacing:0.600px;left:689px;">3,0 %</div>
<div class="t" style="top:442.04px;font-size:10px;line-height:10px;color:#000080;font-style:italic;letter-spacing:0.600px;left:767px;">3,0 %</div>
<div class="t" style="top:442.04px;font-size:10px;line-height:10px;color:#000080;font-style:italic;letter-spacing:0.600px;left:845px;">3,0 %</div>
<div class="t" style="top:460.04px;font-size:10px;line-height:10px;letter-spacing:0.176px;left:20.0px;">- Korot ja muut rahoituskulut</div>
<div class="t" style="top:460.04px;font-size:10px;line-height:10px;right:562.5px;">0</div>
<div class="t" style="top:460.04px;font-size:10px;line-height:10px;right:484.5px;">0</div>
<div class="t" style="top:460.04px;font-size:10px;line-height:10px;right:406.5px;">0</div>
<div class="t" style="top:460.04px;font-size:10px;line-height:10px;right:328.5px;">0</div>
<div class="t" style="top:460.04px;font-size:10px;line-height:10px;right:250.5px;">0</div>
<div class="t" style="top:460.04px;font-size:10px;line-height:10px;right:172.5px;">0</div>
<div class="t" style="top:460.04px;font-size:10px;line-height:10px;right:94.5px;">0</div>
<div class="t" style="top:460.04px;font-size:10px;line-height:10px;right:16.5px;">0</div>
<div class="t" style="top:478.04px;font-size:10px;line-height:10px;letter-spacing:0.072px;left:17.25px;">+ Satunnaiset tuotot ja kulut</div>
<div class="t" style="top:478.04px;font-size:10px;line-height:10px;color:#000080;right:562.5px;">0</div>
<div class="t" style="top:478.04px;font-size:10px;line-height:10px;color:#000080;right:484.5px;">0</div>
<div class="t" style="top:478.04px;font-size:10px;line-height:10px;color:#000080;right:406.5px;">0</div>
<div class="t" style="top:478.04px;font-size:10px;line-height:10px;color:#000080;right:328.5px;">0</div>
<div class="t" style="top:478.04px;font-size:10px;line-height:10px;color:#000080;right:250.5px;">0</div>
<div class="t" style="top:478.04px;font-size:10px;line-height:10px;color:#000080;right:172.5px;">0</div>
<div class="t" style="top:478.04px;font-size:10px;line-height:10px;color:#000080;right:94.5px;">0</div>
<div class="t" style="top:478.04px;font-size:10px;line-height:10px;color:#000080;right:16.5px;">0</div>
<div class="t" style="top:496.04px;font-size:10px;line-height:10px;letter-spacing:0.140px;left:174.75px;"><i>vero</i>-%</div>
<div class="t" style="top:496.04px;font-size:10px;line-height:10px;color:#000080;font-style:italic;letter-spacing:0.600px;left:299px;">20,0 %</div>
<div class="t" style="top:496.04px;font-size:10px;line-height:10px;color:#000080;font-style:italic;letter-spacing:0.600px;left:377px;">20,0 %</div>
<div class="t" style="top:496.04px;font-size:10px;line-height:10px;color:#000080;font-style:italic;letter-spacing:0.600px;left:455px;">20,0 %</div>
<div class="t" style="top:496.04px;font-size:10px;line-height:10px;color:#000080;font-style:italic;letter-spacing:0.600px;left:533px;">20,0 %</div>
<div class="t" style="top:496.04px;font-size:10px;line-height:10px;color:#000080;font-style:italic;letter-spacing:0.600px;left:611px;">20,0 %</div>
<div class="t" style="top:496.04px;font-size:10px;line-height:10px;color:#000080;font-style:italic;letter-spacing:0.600px;left:689px;">20,0 %</div>
<div class="t" style="top:496.04px;font-size:10px;line-height:10px;color:#000080;font-style:italic;letter-spacing:0.600px;left:767px;">20,0 %</div>
<div class="t" style="top:496.04px;font-size:10px;line-height:10px;color:#000080;font-style:italic;letter-spacing:0.600px;left:845px;">20,0 %</div>
<div class="t" style="top:514.03px;font-size:10px;line-height:10px;left:20.0px;">- Välittömät verot</div>
<div class="t" style="top:514.03px;font-size:10px;line-height:10px;right:562.5px;">0</div>
<div class="t" style="top:514.03px;font-size:10px;line-height:10px;right:484.5px;">0</div>
<div class="t" style="top:514.03px;font-size:10px;line-height:10px;right:406.5px;">0</div>
<div class="t" style="top:514.03px;font-size:10px;line-height:10px;right:328.5px;">0</div>
<div class="t" style="top:514.03px;font-size:10px;line-height:10px;right:250.5px;">0</div>
<div class="t" style="top:514.03px;font-size:10px;line-height:10px;right:172.5px;">0</div>
<div class="t" style="top:514.03px;font-size:10px;line-height:10px;right:94.5px;">0</div>
<div class="t" style="top:514.03px;font-size:10px;line-height:10px;right:16.5px;">0</div>
<div class="t" style="top:532.03px;font-size:10px;line-height:10px;font-weight:bold;letter-spacing:0.102px;left:17.75px;">Tilikauden voitto</div>
<div class="t" style="top:532.03px;font-size:10px;line-height:10px;font-weight:bold;right:562.5px;">0</div>
<div class="t" style="top:532.03px;font-size:10px;line-height:10px;font-weight:bold;right:484.5px;">0</div>
<div class="t" style="top:532.03px;font-size:10px;line-height:10px;font-weight:bold;right:406.5px;">0</div>
<div class="t" style="top:532.03px;font-size:10px;line-height:10px;font-weight:bold;right:328.5px;">0</div>
<div class="t" style="top:532.03px;font-size:10px;line-height:10px;font-weight:bold;right:250.5px;">0</div>
<div class="t" style="top:532.03px;font-size:10px;line-height:10px;font-weight:bold;right:172.5px;">0</div>
<div class="t" style="top:532.03px;font-size:10px;line-height:10px;font-weight:bold;right:94.5px;">0</div>
<div class="t" style="top:532.03px;font-size:10px;line-height:10px;font-weight:bold;right:16.5px;">0</div>
<div class="t" style="top:565.69px;font-size:11px;line-height:11px;font-weight:bold;letter-spacing:-0.233px;left:17.75px;">TASE</div>
<div class="t" style="top:565.69px;font-size:11px;line-height:11px;font-weight:bold;right:640px;">Alkutase</div>
<div class="t" style="top:565.69px;font-size:11px;line-height:11px;font-weight:bold;right:561.5px;">2023</div>
<div class="t" style="top:565.69px;font-size:11px;line-height:11px;font-weight:bold;right:483.5px;">2024</div>
<div class="t" style="top:565.69px;font-size:11px;line-height:11px;font-weight:bold;right:405.5px;">2025</div>
<div class="t" style="top:565.69px;font-size:11px;line-height:11px;font-weight:bold;right:327.5px;">2026</div>
<div class="t" style="top:565.69px;font-size:11px;line-height:11px;font-weight:bold;right:249.5px;">2027</div>
<div class="t" style="top:565.69px;font-size:11px;line-height:11px;font-weight:bold;right:171.5px;">2028</div>
<div class="t" style="top:565.69px;font-size:11px;line-height:11px;font-weight:bold;right:93.5px;">2029</div>
<div class="t" style="top:565.69px;font-size:11px;line-height:11px;font-weight:bold;right:15.5px;">2030</div>
<div class="t" style="top:584.03px;font-size:10px;line-height:10px;letter-spacing:-0.106px;left:16.75px;">Pysyvät vastaavat yhteensä</div>
<div class="t" style="top:584.03px;font-size:10px;line-height:10px;right:640.5px;">0</div>
<div class="t" style="top:584.03px;font-size:10px;line-height:10px;right:562.5px;">0</div>
<div class="t" style="top:584.03px;font-size:10px;line-height:10px;right:484.5px;">0</div>
<div class="t" style="top:584.03px;font-size:10px;line-height:10px;right:406.5px;">0</div>
<div class="t" style="top:584.03px;font-size:10px;line-height:10px;right:328.5px;">0</div>
<div class="t" style="top:584.03px;font-size:10px;line-height:10px;right:250.5px;">0</div>
<div class="t" style="top:584.03px;font-size:10px;line-height:10px;right:172.5px;">0</div>
<div class="t" style="top:584.03px;font-size:10px;line-height:10px;right:94.5px;">0</div>
<div class="t" style="top:584.03px;font-size:10px;line-height:10px;right:16.5px;">0</div>
<div class="t" style="top:602.03px;font-size:10px;line-height:10px;letter-spacing:0.179px;left:17.0px;">Vaihto-omaisuus</div>
<div class="t" style="top:602.03px;font-size:10px;line-height:10px;color:#000080;right:640.5px;">0</div>
<div class="t" style="top:602.03px;font-size:10px;line-height:10px;color:#000080;right:562.5px;">0</div>
<div class="t" style="top:602.03px;font-size:10px;line-height:10px;color:#000080;right:484.5px;">0</div>
<div class="t" style="top:602.03px;font-size:10px;line-height:10px;color:#000080;right:406.5px;">0</div>
<div class="t" style="top:602.03px;font-size:10px;line-height:10px;color:#000080;right:328.5px;">0</div>
<div class="t" style="top:602.03px;font-size:10px;line-height:10px;color:#000080;right:250.5px;">0</div>
<div class="t" style="top:602.03px;font-size:10px;line-height:10px;color:#000080;right:172.5px;">0</div>
<div class="t" style="top:602.03px;font-size:10px;line-height:10px;color:#000080;right:94.5px;">0</div>
<div class="t" style="top:602.03px;font-size:10px;line-height:10px;color:#000080;right:16.5px;">0</div>
<div class="t" style="top:620.03px;font-size:10px;line-height:10px;letter-spacing:0.043px;left:16.75px;">Myyntisaamiset</div>
<div class="t" style="top:620.03px;font-size:10px;line-height:10px;color:#000080;right:640.5px;">0</div>
<div class="t" style="top:620.03px;font-size:10px;line-height:10px;color:#000080;right:562.5px;">0</div>
<div class="t" style="top:620.03px;font-size:10px;line-height:10px;color:#000080;right:484.5px;">0</div>
<div class="t" style="top:620.03px;font-size:10px;line-height:10px;color:#000080;right:406.5px;">0</div>
<div class="t" style="top:620.03px;font-size:10px;line-height:10px;color:#000080;right:328.5px;">0</div>
<div class="t" style="top:620.03px;font-size:10px;line-height:10px;color:#000080;right:250.5px;">0</div>
<div class="t" style="top:620.03px;font-size:10px;line-height:10px;color:#000080;right:172.5px;">0</div>
<div class="t" style="top:620.03px;font-size:10px;line-height:10px;color:#000080;right:94.5px;">0</div>
<div class="t" style="top:620.03px;font-size:10px;line-height:10px;color:#000080;right:16.5px;">0</div>
<div class="t" style="top:638.03px;font-size:10px;line-height:10px;letter-spacing:0.051px;left:16.75px;">Muut saamiset</div>
<div class="t" style="top:638.03px;font-size:10px;line-height:10px;color:#000080;right:640.5px;">0</div>
<div class="t" style="top:638.03px;font-size:10px;line-height:10px;color:#000080;right:562.5px;">0</div>
<div class="t" style="top:638.03px;font-size:10px;line-height:10px;color:#000080;right:484.5px;">0</div>
<div class="t" style="top:638.03px;font-size:10px;line-height:10px;color:#000080;right:406.5px;">0</div>
<div class="t" style="top:638.03px;font-size:10px;line-height:10px;color:#000080;right:328.5px;">0</div>
<div class="t" style="top:638.03px;font-size:10px;line-height:10px;color:#000080;right:250.5px;">0</div>
<div class="t" style="top:638.03px;font-size:10px;line-height:10px;color:#000080;right:172.5px;">0</div>
<div class="t" style="top:638.03px;font-size:10px;line-height:10px;color:#000080;right:94.5px;">0</div>
<div class="t" style="top:638.03px;font-size:10px;line-height:10px;color:#000080;right:16.5px;">0</div>
<div class="t" style="top:656.03px;font-size:10px;line-height:10px;letter-spacing:-0.096px;left:16.75px;">Rahat ja pankkisaamiset</div>
<div class="t" style="top:656.03px;font-size:10px;line-height:10px;right:640.5px;">0</div>
<div class="t" style="top:656.03px;font-size:10px;line-height:10px;right:562.5px;">0</div>
<div class="t" style="top:656.03px;font-size:10px;line-height:10px;right:484.5px;">0</div>
<div class="t" style="top:656.03px;font-size:10px;line-height:10px;right:406.5px;">0</div>
<div class="t" style="top:656.03px;font-size:10px;line-height:10px;right:328.5px;">0</div>
<div class="t" style="top:656.03px;font-size:10px;line-height:10px;right:250.5px;">0</div>
<div class="t" style="top:656.03px;font-size:10px;line-height:10px;right:172.5px;">0</div>
<div class="t" style="top:656.03px;font-size:10px;line-height:10px;right:94.5px;">0</div>
<div class="t" style="top:656.03px;font-size:10px;line-height:10px;right:16.5px;">0</div>
<div class="t" style="top:674.03px;font-size:10px;line-height:10px;font-weight:bold;letter-spacing:0.040px;left:17.75px;">Vastaavaa yhteensä</div>
<div class="t" style="top:674.03px;font-size:10px;line-height:10px;font-weight:bold;right:640.5px;">0</div>
<div class="t" style="top:674.03px;font-size:10px;line-height:10px;font-weight:bold;right:562.5px;">0</div>
<div class="t" style="top:674.03px;font-size:10px;line-height:10px;font-weight:bold;right:484.5px;">0</div>
<div class="t" style="top:674.03px;font-size:10px;line-height:10px;font-weight:bold;right:406.5px;">0</div>
<div class="t" style="top:674.03px;font-size:10px;line-height:10px;font-weight:bold;right:328.5px;">0</div>
<div class="t" style="top:674.03px;font-size:10px;line-height:10px;font-weight:bold;right:250.5px;">0</div>
<div class="t" style="top:674.03px;font-size:10px;line-height:10px;font-weight:bold;right:172.5px;">0</div>
<div class="t" style="top:674.03px;font-size:10px;line-height:10px;font-weight:bold;right:94.5px;">0</div>
<div class="t" style="top:674.03px;font-size:10px;line-height:10px;font-weight:bold;right:16.5px;">0</div>
<div class="t" style="top:692.03px;font-size:10px;line-height:10px;letter-spacing:0.038px;left:17.25px;">Oma pääoma</div>
<div class="t" style="top:692.03px;font-size:10px;line-height:10px;right:640.5px;">0</div>
<div class="t" style="top:692.03px;font-size:10px;line-height:10px;right:562.5px;">0</div>
<div class="t" style="top:692.03px;font-size:10px;line-height:10px;right:484.5px;">0</div>
<div class="t" style="top:692.03px;font-size:10px;line-height:10px;right:406.5px;">0</div>
<div class="t" style="top:692.03px;font-size:10px;line-height:10px;right:328.5px;">0</div>
<div class="t" style="top:692.03px;font-size:10px;line-height:10px;right:250.5px;">0</div>
<div class="t" style="top:692.03px;font-size:10px;line-height:10px;right:172.5px;">0</div>
<div class="t" style="top:692.03px;font-size:10px;line-height:10px;right:94.5px;">0</div>
<div class="t" style="top:692.03px;font-size:10px;line-height:10px;right:16.5px;">0</div>
<div class="t" style="top:710.03px;font-size:10px;line-height:10px;letter-spacing:-0.133px;left:16.75px;">Pitkäaikainen vieras pääoma</div>
<div class="t" style="top:710.03px;font-size:10px;line-height:10px;right:640.5px;">0</div>
<div class="t" style="top:710.03px;font-size:10px;line-height:10px;right:562.5px;">0</div>
<div class="t" style="top:710.03px;font-size:10px;line-height:10px;right:484.5px;">0</div>
<div class="t" style="top:710.03px;font-size:10px;line-height:10px;right:406.5px;">0</div>
<div class="t" style="top:710.03px;font-size:10px;line-height:10px;right:328.5px;">0</div>
<div class="t" style="top:710.03px;font-size:10px;line-height:10px;right:250.5px;">0</div>
<div class="t" style="top:710.03px;font-size:10px;line-height:10px;right:172.5px;">0</div>
<div class="t" style="top:710.03px;font-size:10px;line-height:10px;right:94.5px;">0</div>
<div class="t" style="top:710.03px;font-size:10px;line-height:10px;right:16.5px;">0</div>
<div class="t" style="top:728.03px;font-size:10px;line-height:10px;letter-spacing:-0.050px;left:16.75px;">Lyhytaikaiset pankkilainat</div>
<div class="t" style="top:728.03px;font-size:10px;line-height:10px;color:#000080;right:640.5px;">0</div>
<div class="t" style="top:728.03px;font-size:10px;line-height:10px;color:#000080;right:562.5px;">0</div>
<div class="t" style="top:728.03px;font-size:10px;line-height:10px;color:#000080;right:484.5px;">0</div>
<div class="t" style="top:728.03px;font-size:10px;line-height:10px;color:#000080;right:406.5px;">0</div>
<div class="t" style="top:728.03px;font-size:10px;line-height:10px;color:#000080;right:328.5px;">0</div>
<div class="t" style="top:728.03px;font-size:10px;line-height:10px;color:#000080;right:250.5px;">0</div>
<div class="t" style="top:728.03px;font-size:10px;line-height:10px;color:#000080;right:172.5px;">0</div>
<div class="t" style="top:728.03px;font-size:10px;line-height:10px;color:#000080;right:94.5px;">0</div>
<div class="t" style="top:728.03px;font-size:10px;line-height:10px;color:#000080;right:16.5px;">0</div>
<div class="t" style="top:746.03px;font-size:10px;line-height:10px;letter-spacing:-0.113px;left:17.25px;">Ostovelat</div>
<div class="t" style="top:746.03px;font-size:10px;line-height:10px;color:#000080;right:640.5px;">0</div>
<div class="t" style="top:746.03px;font-size:10px;line-height:10px;color:#000080;right:562.5px;">0</div>
<div class="t" style="top:746.03px;font-size:10px;line-height:10px;color:#000080;right:484.5px;">0</div>
<div class="t" style="top:746.03px;font-size:10px;line-height:10px;color:#000080;right:406.5px;">0</div>
<div class="t" style="top:746.03px;font-size:10px;line-height:10px;color:#000080;right:328.5px;">0</div>
<div class="t" style="top:746.03px;font-size:10px;line-height:10px;color:#000080;right:250.5px;">0</div>
<div class="t" style="top:746.03px;font-size:10px;line-height:10px;color:#000080;right:172.5px;">0</div>
<div class="t" style="top:746.03px;font-size:10px;line-height:10px;color:#000080;right:94.5px;">0</div>
<div class="t" style="top:746.03px;font-size:10px;line-height:10px;color:#000080;right:16.5px;">0</div>
<div class="t" style="top:764.03px;font-size:10px;line-height:10px;letter-spacing:0.015px;left:16.75px;">Muu lyhytaik. vieras pääoma</div>
<div class="t" style="top:764.03px;font-size:10px;line-height:10px;color:#000080;right:640.5px;">0</div>
<div class="t" style="top:764.03px;font-size:10px;line-height:10px;color:#000080;right:562.5px;">0</div>
<div class="t" style="top:764.03px;font-size:10px;line-height:10px;color:#000080;right:484.5px;">0</div>
<div class="t" style="top:764.03px;font-size:10px;line-height:10px;color:#000080;right:406.5px;">0</div>
<div class="t" style="top:764.03px;font-size:10px;line-height:10px;color:#000080;right:328.5px;">0</div>
<div class="t" style="top:764.03px;font-size:10px;line-height:10px;color:#000080;right:250.5px;">0</div>
<div class="t" style="top:764.03px;font-size:10px;line-height:10px;color:#000080;right:172.5px;">0</div>
<div class="t" style="top:764.03px;font-size:10px;line-height:10px;color:#000080;right:94.5px;">0</div>
<div class="t" style="top:764.03px;font-size:10px;line-height:10px;color:#000080;right:16.5px;">0</div>
<div class="t" style="top:782.03px;font-size:10px;line-height:10px;font-weight:bold;letter-spacing:0.105px;left:17.75px;">Vastattavaa yhteensä</div>
<div class="t" style="top:782.03px;font-size:10px;line-height:10px;font-weight:bold;right:640.5px;">0</div>
<div class="t" style="top:782.03px;font-size:10px;line-height:10px;font-weight:bold;right:562.5px;">0</div>
<div class="t" style="top:782.03px;font-size:10px;line-height:10px;font-weight:bold;right:484.5px;">0</div>
<div class="t" style="top:782.03px;font-size:10px;line-height:10px;font-weight:bold;right:406.5px;">0</div>
<div class="t" style="top:782.03px;font-size:10px;line-height:10px;font-weight:bold;right:328.5px;">0</div>
<div class="t" style="top:782.03px;font-size:10px;line-height:10px;font-weight:bold;right:250.5px;">0</div>
<div class="t" style="top:782.03px;font-size:10px;line-height:10px;font-weight:bold;right:172.5px;">0</div>
<div class="t" style="top:782.03px;font-size:10px;line-height:10px;font-weight:bold;right:94.5px;">0</div>
<div class="t" style="top:782.03px;font-size:10px;line-height:10px;font-weight:bold;right:16.5px;">0</div>
<div class="t" style="top:817.69px;font-size:11px;line-height:11px;font-weight:bold;letter-spacing:0.043px;left:17.25px;">RAHOITUSLASKELMA</div>
<div class="t" style="top:817.69px;font-size:11px;line-height:11px;font-weight:bold;left:221px;">Alkutase</div>
<div class="t" style="top:817.69px;font-size:11px;line-height:11px;font-weight:bold;right:561.5px;">2023</div>
<div class="t" style="top:817.69px;font-size:11px;line-height:11px;font-weight:bold;right:483.5px;">2024</div>
<div class="t" style="top:817.69px;font-size:11px;line-height:11px;font-weight:bold;right:405.5px;">2025</div>
<div class="t" style="top:817.69px;font-size:11px;line-height:11px;font-weight:bold;right:327.5px;">2026</div>
<div class="t" style="top:817.69px;font-size:11px;line-height:11px;font-weight:bold;right:249.5px;">2027</div>
<div class="t" style="top:817.69px;font-size:11px;line-height:11px;font-weight:bold;right:171.5px;">2028</div>
<div class="t" style="top:817.69px;font-size:11px;line-height:11px;font-weight:bold;right:93.5px;">2029</div>
<div class="t" style="top:817.69px;font-size:11px;line-height:11px;font-weight:bold;right:15.5px;">2030</div>
<div class="t" style="top:836.03px;font-size:10px;line-height:10px;letter-spacing:0.133px;left:17.75px;">Tulos+poistot</div>
<div class="t" style="top:836.03px;font-size:10px;line-height:10px;right:555.5px;">0</div>
<div class="t" style="top:836.03px;font-size:10px;line-height:10px;right:477.5px;">0</div>
<div class="t" style="top:836.03px;font-size:10px;line-height:10px;right:399.5px;">0</div>
<div class="t" style="top:836.03px;font-size:10px;line-height:10px;right:321.5px;">0</div>
<div class="t" style="top:836.03px;font-size:10px;line-height:10px;right:243.5px;">0</div>
<div class="t" style="top:836.03px;font-size:10px;line-height:10px;right:165.5px;">0</div>
<div class="t" style="top:836.03px;font-size:10px;line-height:10px;right:87.5px;">0</div>
<div class="t" style="top:836.03px;font-size:10px;line-height:10px;right:9.5px;">0</div>
<div class="t" style="top:854.03px;font-size:10px;line-height:10px;letter-spacing:0.128px;left:16.75px;">Lainojen nostot</div>
<div class="t" style="top:854.03px;font-size:10px;line-height:10px;color:#000080;right:555.5px;">0</div>
<div class="t" style="top:854.03px;font-size:10px;line-height:10px;color:#000080;right:477.5px;">0</div>
<div class="t" style="top:854.03px;font-size:10px;line-height:10px;color:#000080;right:399.5px;">0</div>
<div class="t" style="top:854.03px;font-size:10px;line-height:10px;color:#000080;right:321.5px;">0</div>
<div class="t" style="top:854.03px;font-size:10px;line-height:10px;color:#000080;right:243.5px;">0</div>
<div class="t" style="top:854.03px;font-size:10px;line-height:10px;color:#000080;right:165.5px;">0</div>
<div class="t" style="top:854.03px;font-size:10px;line-height:10px;color:#000080;right:87.5px;">0</div>
<div class="t" style="top:854.03px;font-size:10px;line-height:10px;color:#000080;right:9.5px;">0</div>
<div class="t" style="top:872.03px;font-size:10px;line-height:10px;letter-spacing:0.008px;left:16.75px;">Sijoitukset omaan pääomaan</div>
<div class="t" style="top:872.03px;font-size:10px;line-height:10px;color:#000080;right:555.5px;">0</div>
<div class="t" style="top:872.03px;font-size:10px;line-height:10px;color:#000080;right:477.5px;">0</div>
<div class="t" style="top:872.03px;font-size:10px;line-height:10px;color:#000080;right:399.5px;">0</div>
<div class="t" style="top:872.03px;font-size:10px;line-height:10px;color:#000080;right:321.5px;">0</div>
<div class="t" style="top:872.03px;font-size:10px;line-height:10px;color:#000080;right:243.5px;">0</div>
<div class="t" style="top:872.03px;font-size:10px;line-height:10px;color:#000080;right:165.5px;">0</div>
<div class="t" style="top:872.03px;font-size:10px;line-height:10px;color:#000080;right:87.5px;">0</div>
<div class="t" style="top:872.03px;font-size:10px;line-height:10px;color:#000080;right:9.5px;">0</div>
<div class="t" style="top:890.03px;font-size:10px;line-height:10px;font-weight:bold;letter-spacing:0.143px;left:17.25px;">Rahan lähteet yhteensä</div>
<div class="t" style="top:890.03px;font-size:10px;line-height:10px;font-weight:bold;right:555.5px;">0</div>
<div class="t" style="top:890.03px;font-size:10px;line-height:10px;font-weight:bold;right:477.5px;">0</div>
<div class="t" style="top:890.03px;font-size:10px;line-height:10px;font-weight:bold;right:399.5px;">0</div>
<div class="t" style="top:890.03px;font-size:10px;line-height:10px;font-weight:bold;right:321.5px;">0</div>
<div class="t" style="top:890.03px;font-size:10px;line-height:10px;font-weight:bold;right:243.5px;">0</div>
<div class="t" style="top:890.03px;font-size:10px;line-height:10px;font-weight:bold;right:165.5px;">0</div>
<div class="t" style="top:890.03px;font-size:10px;line-height:10px;font-weight:bold;right:87.5px;">0</div>
<div class="t" style="top:890.03px;font-size:10px;line-height:10px;font-weight:bold;right:9.5px;">0</div>
<div class="t" style="top:908.03px;font-size:10px;line-height:10px;letter-spacing:0.086px;left:16.75px;">Investoinnit</div>
<div class="t" style="top:908.03px;font-size:10px;line-height:10px;color:#000080;right:555.5px;">0</div>
<div class="t" style="top:908.03px;font-size:10px;line-height:10px;color:#000080;right:477.5px;">0</div>
<div class="t" style="top:908.03px;font-size:10px;line-height:10px;color:#000080;right:399.5px;">0</div>
<div class="t" style="top:908.03px;font-size:10px;line-height:10px;color:#000080;right:321.5px;">0</div>
<div class="t" style="top:908.03px;font-size:10px;line-height:10px;color:#000080;right:243.5px;">0</div>
<div class="t" style="top:908.03px;font-size:10px;line-height:10px;color:#000080;right:165.5px;">0</div>
<div class="t" style="top:908.03px;font-size:10px;line-height:10px;color:#000080;right:87.5px;">0</div>
<div class="t" style="top:908.03px;font-size:10px;line-height:10px;color:#000080;right:9.5px;">0</div>
<div class="t" style="top:926.03px;font-size:10px;line-height:10px;letter-spacing:0.125px;left:16.75px;">Lyhennykset</div>
<div class="t" style="top:926.03px;font-size:10px;line-height:10px;right:555.5px;">0</div>
<div class="t" style="top:926.03px;font-size:10px;line-height:10px;right:477.5px;">0</div>
<div class="t" style="top:926.03px;font-size:10px;line-height:10px;right:399.5px;">0</div>
<div class="t" style="top:926.03px;font-size:10px;line-height:10px;right:321.5px;">0</div>
<div class="t" style="top:926.03px;font-size:10px;line-height:10px;right:243.5px;">0</div>
<div class="t" style="top:926.03px;font-size:10px;line-height:10px;right:165.5px;">0</div>
<div class="t" style="top:926.03px;font-size:10px;line-height:10px;right:87.5px;">0</div>
<div class="t" style="top:926.03px;font-size:10px;line-height:10px;right:9.5px;">0</div>
<div class="t" style="top:944.03px;font-size:10px;line-height:10px;letter-spacing:0.131px;left:17.25px;">Osingot, yksityisnostot</div>
<div class="t" style="top:944.03px;font-size:10px;line-height:10px;color:#000080;right:555.5px;">0</div>
<div class="t" style="top:944.03px;font-size:10px;line-height:10px;color:#000080;right:477.5px;">0</div>
<div class="t" style="top:944.03px;font-size:10px;line-height:10px;color:#000080;right:399.5px;">0</div>
<div class="t" style="top:944.03px;font-size:10px;line-height:10px;color:#000080;right:321.5px;">0</div>
<div class="t" style="top:944.03px;font-size:10px;line-height:10px;color:#000080;right:243.5px;">0</div>
<div class="t" style="top:944.03px;font-size:10px;line-height:10px;color:#000080;right:165.5px;">0</div>
<div class="t" style="top:944.03px;font-size:10px;line-height:10px;color:#000080;right:87.5px;">0</div>
<div class="t" style="top:944.03px;font-size:10px;line-height:10px;color:#000080;right:9.5px;">0</div>
<div class="t" style="top:962.03px;font-size:10px;line-height:10px;letter-spacing:0.023px;left:16.75px;">Käyttöpääoma</div>
<div class="t" style="top:962.03px;font-size:10px;line-height:10px;right:555.5px;">0</div>
<div class="t" style="top:962.03px;font-size:10px;line-height:10px;right:477.5px;">0</div>
<div class="t" style="top:962.03px;font-size:10px;line-height:10px;right:399.5px;">0</div>
<div class="t" style="top:962.03px;font-size:10px;line-height:10px;right:321.5px;">0</div>
<div class="t" style="top:962.03px;font-size:10px;line-height:10px;right:243.5px;">0</div>
<div class="t" style="top:962.03px;font-size:10px;line-height:10px;right:165.5px;">0</div>
<div class="t" style="top:962.03px;font-size:10px;line-height:10px;right:87.5px;">0</div>
<div class="t" style="top:962.03px;font-size:10px;line-height:10px;right:9.5px;">0</div>
<div class="t" style="top:980.03px;font-size:10px;line-height:10px;letter-spacing:0.022px;left:16.75px;">Käyttöpääoman lisäys</div>
<div class="t" style="top:980.03px;font-size:10px;line-height:10px;right:555.5px;">0</div>
<div class="t" style="top:980.03px;font-size:10px;line-height:10px;right:477.5px;">0</div>
<div class="t" style="top:980.03px;font-size:10px;line-height:10px;right:399.5px;">0</div>
<div class="t" style="top:980.03px;font-size:10px;line-height:10px;right:321.5px;">0</div>
<div class="t" style="top:980.03px;font-size:10px;line-height:10px;right:243.5px;">0</div>
<div class="t" style="top:980.03px;font-size:10px;line-height:10px;right:165.5px;">0</div>
<div class="t" style="top:980.03px;font-size:10px;line-height:10px;right:87.5px;">0</div>
<div class="t" style="top:980.03px;font-size:10px;line-height:10px;right:9.5px;">0</div>
<div class="t" style="top:998.03px;font-size:10px;line-height:10px;letter-spacing:0.118px;left:16.75px;">Muun lyhytaik vpo:n lisäys</div>
<div class="t" style="top:998.03px;font-size:10px;line-height:10px;right:555.5px;">0</div>
<div class="t" style="top:998.03px;font-size:10px;line-height:10px;right:477.5px;">0</div>
<div class="t" style="top:998.03px;font-size:10px;line-height:10px;right:399.5px;">0</div>
<div class="t" style="top:998.03px;font-size:10px;line-height:10px;right:321.5px;">0</div>
<div class="t" style="top:998.03px;font-size:10px;line-height:10px;right:243.5px;">0</div>
<div class="t" style="top:998.03px;font-size:10px;line-height:10px;right:165.5px;">0</div>
<div class="t" style="top:998.03px;font-size:10px;line-height:10px;right:87.5px;">0</div>
<div class="t" style="top:998.03px;font-size:10px;line-height:10px;right:9.5px;">0</div>
<div class="t" style="top:1016.03px;font-size:10px;line-height:10px;font-weight:bold;letter-spacing:0.100px;left:17.25px;">Rahan käyttö yhteensä</div>
<div class="t" style="top:1016.03px;font-size:10px;line-height:10px;font-weight:bold;right:555.5px;">0</div>
<div class="t" style="top:1016.03px;font-size:10px;line-height:10px;font-weight:bold;right:477.5px;">0</div>
<div class="t" style="top:1016.03px;font-size:10px;line-height:10px;font-weight:bold;right:399.5px;">0</div>
<div class="t" style="top:1016.03px;font-size:10px;line-height:10px;font-weight:bold;right:321.5px;">0</div>
<div class="t" style="top:1016.03px;font-size:10px;line-height:10px;font-weight:bold;right:243.5px;">0</div>
<div class="t" style="top:1016.03px;font-size:10px;line-height:10px;font-weight:bold;right:165.5px;">0</div>
<div class="t" style="top:1016.03px;font-size:10px;line-height:10px;font-weight:bold;right:87.5px;">0</div>
<div class="t" style="top:1016.03px;font-size:10px;line-height:10px;font-weight:bold;right:9.5px;">0</div>
<div class="t" style="top:962.11px;font-size:10.5px;line-height:10.5px;right:633px;">0</div>
<div class="t" style="top:1052.04px;font-size:10px;line-height:10px;font-weight:bold;letter-spacing:0.043px;left:17.25px;">Rahoitusylijäämä</div>
<div class="t" style="top:1052.04px;font-size:10px;line-height:10px;font-weight:bold;right:633.5px;">0</div>
<div class="t" style="top:1052.04px;font-size:10px;line-height:10px;font-weight:bold;right:555.5px;">0</div>
<div class="t" style="top:1052.04px;font-size:10px;line-height:10px;font-weight:bold;right:477.5px;">0</div>
<div class="t" style="top:1052.04px;font-size:10px;line-height:10px;font-weight:bold;right:399.5px;">0</div>
<div class="t" style="top:1052.04px;font-size:10px;line-height:10px;font-weight:bold;right:321.5px;">0</div>
<div class="t" style="top:1052.04px;font-size:10px;line-height:10px;font-weight:bold;right:243.5px;">0</div>
<div class="t" style="top:1052.04px;font-size:10px;line-height:10px;font-weight:bold;right:165.5px;">0</div>
<div class="t" style="top:1052.04px;font-size:10px;line-height:10px;font-weight:bold;right:87.5px;">0</div>
<div class="t" style="top:1052.04px;font-size:10px;line-height:10px;font-weight:bold;right:9.5px;">0</div>
<div class="t" style="top:1070.04px;font-size:10px;line-height:10px;font-weight:bold;letter-spacing:0.081px;left:17.25px;">Kumulatiivinen ylijäämä</div>
<div class="t" style="top:1070.04px;font-size:10px;line-height:10px;font-weight:bold;right:633.5px;">0</div>
<div class="t" style="top:1070.04px;font-size:10px;line-height:10px;font-weight:bold;right:555.5px;">0</div>
<div class="t" style="top:1070.04px;font-size:10px;line-height:10px;font-weight:bold;right:477.5px;">0</div>
<div class="t" style="top:1070.04px;font-size:10px;line-height:10px;font-weight:bold;right:399.5px;">0</div>
<div class="t" style="top:1070.04px;font-size:10px;line-height:10px;font-weight:bold;right:321.5px;">0</div>
<div class="t" style="top:1070.04px;font-size:10px;line-height:10px;font-weight:bold;right:243.5px;">0</div>
<div class="t" style="top:1070.04px;font-size:10px;line-height:10px;font-weight:bold;right:165.5px;">0</div>
<div class="t" style="top:1070.04px;font-size:10px;line-height:10px;font-weight:bold;right:87.5px;">0</div>
<div class="t" style="top:1070.04px;font-size:10px;line-height:10px;font-weight:bold;right:9.5px;">0</div>
</div>
</body></html>
